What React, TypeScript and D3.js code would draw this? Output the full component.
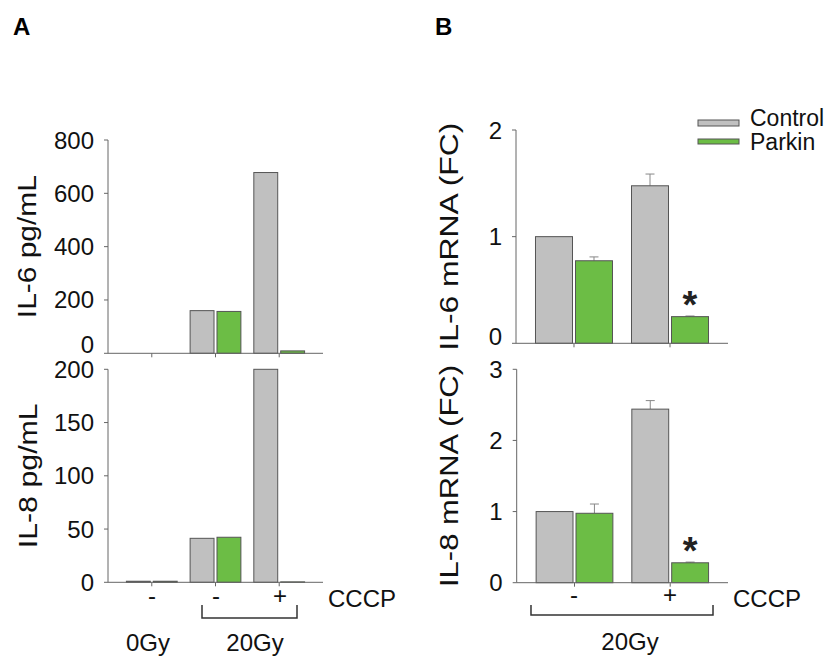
import React from "react";
import * as d3 from "d3";

// panel A: cytokine secretion (pg/mL)
const groupsA = ["0Gy -", "20Gy -", "20Gy +"];
const cccpA = ["-", "-", "+"];
const il6ControlA = [0, 160, 678];
const il6ParkinA = [0, 157, 9];
const il8ControlA = [1, 41.3, 200];
const il8ParkinA = [1, 42.3, 0.4];
const ticksA6 = [0, 200, 400, 600, 800];
const ticksA8 = [0, 50, 100, 150, 200];

// panel B: mRNA fold change
const groupsB = ["-", "+"];
const il6ControlB = [1.0, 1.477];
const il6ControlErrB = [0, 0.11];
const il6ParkinB = [0.774, 0.25];
const il6ParkinErrB = [0.036, 0.006];
const il8ControlB = [1.0, 2.44];
const il8ControlErrB = [0, 0.12];
const il8ParkinB = [0.976, 0.28];
const il8ParkinErrB = [0.13, 0.01];
const ticksB6 = [0, 1, 2];
const ticksB8 = [0, 1, 2, 3];
const starsB = [false, true];

const FONT = "'Liberation Sans', Arial, Helvetica, sans-serif";
const GRAY = "#c0c0c0";
const GREEN = "#6cbd45";
const AXIS = "#666";
const OUTLINE = "#555";
const INK = "#111";

type PanelProps = {
  left: number;
  right: number;
  top: number;
  bottom: number;
  max: number;
  ticks: number[];
  groups: string[];
  control: number[];
  parkin: number[];
  controlErr?: number[];
  parkinErr?: number[];
  stars?: boolean[];
  padInner: number;
  padOuter: number;
  subPad: number;
  label: string;
  labelX: number;
  labelLen: number;
  zeroShift?: number;
};

const Panel = (p: PanelProps) => {
  const y = d3.scaleLinear().domain([0, p.max]).range([p.bottom, p.top]);
  const x = d3
    .scaleBand()
    .domain(p.groups)
    .range([p.left, p.right])
    .paddingInner(p.padInner)
    .paddingOuter(p.padOuter);
  const sub = d3
    .scaleBand()
    .domain(["Control", "Parkin"])
    .range([0, x.bandwidth()])
    .paddingInner(p.subPad);

  const series = [
    { key: "Control", vals: p.control, errs: p.controlErr, fill: GRAY },
    { key: "Parkin", vals: p.parkin, errs: p.parkinErr, fill: GREEN },
  ];

  return (
    <g>
      {series.map((s) => (
        <g key={s.key}>
          {p.groups.map((g, i) => {
            const bx = (x(g) ?? 0) + (sub(s.key) ?? 0);
            const bw = sub.bandwidth();
            const v = s.vals[i];
            const e = s.errs ? s.errs[i] : 0;
            const cx = bx + bw / 2;
            return (
              <g key={g}>
                {e > 0 && (
                  <g stroke="#888" strokeWidth={1}>
                    <line x1={cx} x2={cx} y1={y(v)} y2={y(v + e)} />
                    <line x1={cx - 4.5} x2={cx + 4.5} y1={y(v + e)} y2={y(v + e)} />
                  </g>
                )}
                <rect
                  x={bx}
                  y={y(v)}
                  width={bw}
                  height={p.bottom - y(v)}
                  fill={s.fill}
                  stroke={OUTLINE}
                  strokeWidth={1}
                />
                {s.key === "Parkin" && p.stars && p.stars[i] && (
                  <text
                    x={cx}
                    y={y(v + e) + 2}
                    textAnchor="middle"
                    fontSize={38}
                    fontWeight="bold"
                    fontFamily={FONT}
                    fill="#222"
                  >
                    *
                  </text>
                )}
              </g>
            );
          })}
        </g>
      ))}
      {/* axes */}
      <line x1={p.left} x2={p.left} y1={p.top} y2={p.bottom} stroke={AXIS} />
      <line x1={p.left} x2={p.right} y1={p.bottom} y2={p.bottom} stroke={AXIS} />
      {p.ticks.map((t, i) => (
        <g key={t}>
          <line x1={p.left - 4} x2={p.left} y1={y(t)} y2={y(t)} stroke={AXIS} />
          <text
            x={p.left - 14}
            y={y(t) + 8.5 + (i === 0 && p.zeroShift ? p.zeroShift : 0)}
            textAnchor="end"
            fontSize={24}
            fontFamily={FONT}
            fill={INK}
          >
            {t}
          </text>
        </g>
      ))}
      {p.groups.map((g) => (
        <line
          key={g}
          x1={(x(g) ?? 0) + x.bandwidth() / 2}
          x2={(x(g) ?? 0) + x.bandwidth() / 2}
          y1={p.bottom}
          y2={p.bottom + 4}
          stroke={AXIS}
        />
      ))}
      <text
        transform={`translate(${p.labelX},${(p.top + p.bottom) / 2}) rotate(-90)`}
        textAnchor="middle"
        fontSize={26}
        fontFamily={FONT}
        fill={INK}
        textLength={p.labelLen}
        lengthAdjust="spacingAndGlyphs"
      >
        {p.label}
      </text>
    </g>
  );
};

const bandCenter = (groups: string[], left: number, right: number, pi: number, po: number) => {
  const x = d3.scaleBand().domain(groups).range([left, right]).paddingInner(pi).paddingOuter(po);
  return (g: string) => (x(g) ?? 0) + x.bandwidth() / 2;
};

const App = () => {
  const cA = bandCenter(groupsA, 108, 324, 0.203, 0.289);
  const cB = bandCenter(groupsB, 516, 728, 0.198, 0.203);
  const txt = { fontFamily: FONT, fontSize: 24, fill: INK };

  return (
    <svg width={836} height={657} style={{ position: "absolute", left: 0, top: 0, background: "#fff" }}>
      <rect width={836} height={657} fill="#fff" />
      <text x={13} y={35} fontFamily={FONT} fontSize={24} fontWeight="bold">A</text>
      <text x={435} y={35} fontFamily={FONT} fontSize={24} fontWeight="bold">B</text>

      <Panel
        left={108} right={323} top={140} bottom={353.3} max={800} ticks={ticksA6}
        groups={groupsA} control={il6ControlA} parkin={il6ParkinA}
        padInner={0.203} padOuter={0.289} subPad={0.111}
        label="IL-6 pg/mL" labelX={36} labelLen={143} zeroShift={-9}
      />
      <Panel
        left={108} right={323} top={369.3} bottom={582.3} max={200} ticks={ticksA8}
        groups={groupsA} control={il8ControlA} parkin={il8ParkinA}
        padInner={0.203} padOuter={0.289} subPad={0.111}
        label="IL-8 pg/mL" labelX={37} labelLen={145}
      />
      <Panel
        left={516} right={728} top={130} bottom={343.3} max={2} ticks={ticksB6}
        groups={groupsB} control={il6ControlB} parkin={il6ParkinB}
        controlErr={il6ControlErrB} parkinErr={il6ParkinErrB} stars={starsB}
        padInner={0.198} padOuter={0.203} subPad={0.075}
        label="IL-6 mRNA (FC)" labelX={458} labelLen={228} zeroShift={-7}
      />
      <Panel
        left={516.7} right={728} top={369.3} bottom={582.7} max={3} ticks={ticksB8}
        groups={groupsB} control={il8ControlB} parkin={il8ParkinB}
        controlErr={il8ControlErrB} parkinErr={il8ParkinErrB} stars={starsB}
        padInner={0.198} padOuter={0.203} subPad={0.075}
        label="IL-8 mRNA (FC)" labelX={458} labelLen={222}
      />

      {/* CCCP row, panel A */}
      {groupsA.map((g, i) => (
        <text key={g} x={cA(g)} y={604} textAnchor="middle" {...txt}>{cccpA[i]}</text>
      ))}
      <text x={328} y={607} {...txt}>CCCP</text>
      <path
        d={`M${cA(groupsA[1]) - 14},605 V618 H${cA(groupsA[2]) + 17} V605`}
        fill="none" stroke="#333" strokeWidth={1.5}
      />
      <text x={cA(groupsA[0]) - 4} y={651} textAnchor="middle" {...txt}>0Gy</text>
      <text x={255} y={651} textAnchor="middle" {...txt}>20Gy</text>

      {/* CCCP row, panel B */}
      {groupsB.map((g) => (
        <text key={g} x={cB(g)} y={603} textAnchor="middle" {...txt}>{g}</text>
      ))}
      <text x={733} y={607} {...txt}>CCCP</text>
      <path
        d={`M${cB(groupsB[0]) - 43},605 V615 H${cB(groupsB[1]) + 43} V605`}
        fill="none" stroke="#333" strokeWidth={1.5}
      />
      <text x={630} y={650} textAnchor="middle" {...txt}>20Gy</text>

      {/* legend */}
      <rect x={698} y={120} width={41} height={6} fill={GRAY} stroke={OUTLINE} />
      <rect x={698} y={139} width={41} height={5} fill={GREEN} stroke={OUTLINE} />
      <text x={750} y={126} fontFamily={FONT} fontSize={23} fill={INK}>Control</text>
      <text x={750} y={150} fontFamily={FONT} fontSize={23} fill={INK}>Parkin</text>
    </svg>
  );
};

export default App;
